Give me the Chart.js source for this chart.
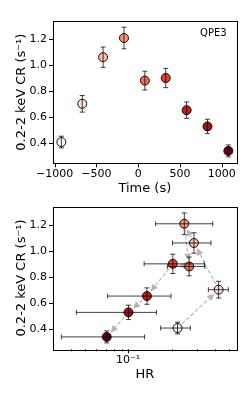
<!DOCTYPE html>
<html>
<head>
<meta charset="utf-8">
<script src="https://cdn.jsdelivr.net/npm/chart.js@4.4.1/dist/chart.umd.min.js"></script>
<style>
    html, body { margin: 0; padding: 0; background: #fff; }
    #wrap { position: relative; width: 246px; height: 393px; }
    canvas { position: absolute; left: 0; }
    #timeChart { top: 0; }
    #hrChart { top: 198px; }
</style>
</head>
<body>
<div id="wrap">
    <canvas id="timeChart" width="246" height="198"></canvas>
    <canvas id="hrChart" width="246" height="195"></canvas>
</div>
<script>
// Data (QPE3, nine time bins)
const timeSec = [-920, -670, -420, -170, 80, 330, 580, 830, 1080];
const countRate = [0.408, 0.702, 1.06, 1.207, 0.88, 0.90, 0.653, 0.528, 0.34];
const countRateErr = [0.045, 0.064, 0.078, 0.083, 0.072, 0.074, 0.063, 0.055, 0.046];
const hardness = [0.22, 0.424, 0.286, 0.245, 0.265, 0.204, 0.135, 0.1005, 0.071];
const hardnessLo = [0.168, 0.36, 0.203, 0.155, 0.187, 0.129, 0.072, 0.0437, 0.0344];
const hardnessHi = [0.27, 0.495, 0.375, 0.386, 0.34, 0.338, 0.198, 0.157, 0.13];

// Tick labels
const crTicks = [0.4, 0.6, 0.8, 1.0, 1.2];
const timeTicks = [-1000, -500, 0, 500, 1000];
const timeTickLabels = ['\u22121000', '\u2212500', '0', '500', '1000'];
const hrTicks = [0.04, 0.05, 0.06, 0.07, 0.08, 0.09, 0.1, 0.2, 0.3, 0.4, 0.5];
const hrMajor = [0.1];
const hrMajorLabels = ['10\u207B\u00B9'];

// Reds colormap, one colour per time bin
const pointColors = ['#fff5f0', '#fee0d2', '#fcbba1', '#fc9272', '#fb6a4a', '#ef3b2c', '#cb181d', '#a50f15', '#67000d'];

const FONT = 'DejaVu Sans';
const CR_MIN = 0.245, CR_MAX = 1.338;

/**
 * Draws the axes box, matplotlib-style tick marks and an optional corner label.
 */
const framePlugin = {
    id: 'frame',
    afterDraw(chart, args, opts) {
        const { ctx, chartArea: a, scales } = chart;
        ctx.save();
        ctx.strokeStyle = '#000';
        ctx.lineWidth = 1;
        ctx.strokeRect(Math.round(a.left) + 0.5, Math.round(a.top) + 0.5,
            Math.round(a.right - a.left), Math.round(a.bottom - a.top));

        ctx.beginPath();
        (opts.xMajor || []).forEach(v => {
            const x = Math.round(scales.x.getPixelForValue(v)) + 0.5;
            ctx.moveTo(x, a.bottom); ctx.lineTo(x, a.bottom + 4);
        });
        (opts.xMinor || []).forEach(v => {
            const x = Math.round(scales.x.getPixelForValue(v)) + 0.5;
            ctx.moveTo(x, a.bottom); ctx.lineTo(x, a.bottom + 2);
        });
        (opts.yMajor || []).forEach(v => {
            const y = Math.round(scales.y.getPixelForValue(v)) + 0.5;
            ctx.moveTo(a.left, y); ctx.lineTo(a.left - 4, y);
        });
        ctx.stroke();

        if (opts.label) {
            ctx.fillStyle = '#000';
            ctx.font = `10px "${FONT}"`;
            ctx.textAlign = 'right';
            ctx.textBaseline = 'middle';
            ctx.fillText(opts.label, a.right - 10, a.top + 12);
        }
        ctx.restore();
    }
};

/**
 * Error bars with caps, drawn over the markers.
 */
const errorBarPlugin = {
    id: 'errorbars',
    afterDatasetsDraw(chart, args, opts) {
        const { ctx, scales } = chart;
        const cap = 2.5;
        ctx.save();
        ctx.strokeStyle = 'rgba(0,0,0,0.75)';
        ctx.lineWidth = 1;
        ctx.beginPath();
        opts.x.forEach((xv, i) => {
            const px = scales.x.getPixelForValue(xv);
            const py = scales.y.getPixelForValue(opts.y[i]);
            const yTop = scales.y.getPixelForValue(opts.y[i] + opts.yErr[i]);
            const yBot = scales.y.getPixelForValue(opts.y[i] - opts.yErr[i]);
            ctx.moveTo(px, yTop); ctx.lineTo(px, yBot);
            ctx.moveTo(px - cap, yTop); ctx.lineTo(px + cap, yTop);
            ctx.moveTo(px - cap, yBot); ctx.lineTo(px + cap, yBot);
            if (opts.xLo) {
                const xl = scales.x.getPixelForValue(opts.xLo[i]);
                const xr = scales.x.getPixelForValue(opts.xHi[i]);
                ctx.moveTo(xl, py); ctx.lineTo(xr, py);
                ctx.moveTo(xl, py - cap); ctx.lineTo(xl, py + cap);
                ctx.moveTo(xr, py - cap); ctx.lineTo(xr, py + cap);
            }
        });
        ctx.stroke();
        ctx.restore();
    }
};

/**
 * Dashed grey arrows linking consecutive bins (time order), under the markers.
 */
const arrowPlugin = {
    id: 'arrows',
    beforeDatasetsDraw(chart, args, opts) {
        if (!opts.enabled) return;
        const { ctx } = chart;
        const pts = chart.getDatasetMeta(0).data;
        const shrink = 6, headLen = 7, headHalf = 3.5;
        ctx.save();
        ctx.strokeStyle = '#b5b5b5';
        ctx.fillStyle = '#b5b5b5';
        ctx.lineWidth = 1.1;
        for (let i = 0; i < pts.length - 1; i++) {
            const p = pts[i], q = pts[i + 1];
            const dx = q.x - p.x, dy = q.y - p.y;
            const len = Math.hypot(dx, dy);
            const ux = dx / len, uy = dy / len;
            const sx = p.x + ux * shrink, sy = p.y + uy * shrink;
            const ex = q.x - ux * shrink, ey = q.y - uy * shrink;
            const bx = ex - ux * headLen, by = ey - uy * headLen;
            ctx.setLineDash([4, 2]);
            ctx.beginPath();
            ctx.moveTo(sx, sy); ctx.lineTo(bx, by);
            ctx.stroke();
            ctx.setLineDash([]);
            ctx.beginPath();
            ctx.moveTo(ex, ey);
            ctx.lineTo(bx - uy * headHalf, by + ux * headHalf);
            ctx.lineTo(bx + uy * headHalf, by - ux * headHalf);
            ctx.closePath();
            ctx.fill();
        }
        ctx.restore();
    }
};

function crAxis(titlePad) {
    return {
        min: CR_MIN,
        max: CR_MAX,
        afterBuildTicks: s => { s.ticks = crTicks.map(v => ({ value: v })); },
        afterFit: s => { s.width = 53; },
        grid: { drawOnChartArea: false, drawTicks: true, tickLength: 4, color: 'rgba(0,0,0,0)' },
        border: { display: false },
        ticks: {
            padding: 2,
            color: '#000',
            font: { family: FONT, size: 11 },
            callback: v => Number(v).toFixed(1)
        },
        title: {
            display: true,
            text: '0.2-2 keV CR (s\u207B\u00B9)',
            color: '#000',
            font: { family: FONT, size: 13 },
            padding: { top: titlePad, bottom: 0 }
        }
    };
}

function buildPoints(xs) {
    return xs.map((x, i) => ({ x: x, y: countRate[i] }));
}

function baseDataset(xs) {
    return {
        data: buildPoints(xs),
        backgroundColor: pointColors,
        borderColor: '#111',
        borderWidth: 1,
        pointRadius: 4.5,
        pointHoverRadius: 4.5
    };
}

function initCharts() {
    // Count rate vs time
    new Chart(document.getElementById('timeChart'), {
        type: 'scatter',
        data: { datasets: [baseDataset(timeSec)] },
        options: {
            responsive: false,
            animation: false,
            layout: { padding: { top: 21, right: 9.3, left: 0, bottom: 0 } },
            plugins: {
                legend: { display: false },
                tooltip: { enabled: false },
                frame: { xMajor: timeTicks, yMajor: crTicks, label: 'QPE3' },
                errorbars: { x: timeSec, y: countRate, yErr: countRateErr },
                arrows: { enabled: false }
            },
            scales: {
                x: {
                    type: 'linear',
                    min: -1020,
                    max: 1180,
                    afterBuildTicks: s => { s.ticks = timeTicks.map(v => ({ value: v })); },
                    afterFit: s => { s.height = 34.7; },
                    grid: { drawOnChartArea: false, drawTicks: true, tickLength: 4, color: 'rgba(0,0,0,0)' },
                    border: { display: false },
                    ticks: {
                        padding: 0,
                        maxRotation: 0,
                        autoSkip: false,
                        color: '#000',
                        font: { family: FONT, size: 11 },
                        callback: (v, i) => timeTickLabels[i]
                    },
                    title: {
                        display: true,
                        text: 'Time (s)',
                        color: '#000',
                        font: { family: FONT, size: 13 },
                        padding: { top: 0, bottom: 1.2 }
                    }
                },
                y: crAxis(14)
            }
        },
        plugins: [framePlugin, errorBarPlugin, arrowPlugin]
    });

    // Count rate vs hardness ratio
    new Chart(document.getElementById('hrChart'), {
        type: 'scatter',
        data: { datasets: [baseDataset(hardness)] },
        options: {
            responsive: false,
            animation: false,
            layout: { padding: { top: 8.7, right: 9.3, left: 0, bottom: 0 } },
            plugins: {
                legend: { display: false },
                tooltip: { enabled: false },
                frame: {
                    xMajor: hrMajor,
                    xMinor: hrTicks.filter(v => !hrMajor.includes(v)),
                    yMajor: crTicks
                },
                errorbars: { x: hardness, y: countRate, yErr: countRateErr, xLo: hardnessLo, xHi: hardnessHi },
                arrows: { enabled: true }
            },
            scales: {
                x: {
                    type: 'logarithmic',
                    min: 0.0301,
                    max: 0.566,
                    afterBuildTicks: s => { s.ticks = hrTicks.map(v => ({ value: v })); },
                    afterFit: s => { s.height = 43.7; },
                    grid: { drawOnChartArea: false, drawTicks: true, tickLength: 4, color: 'rgba(0,0,0,0)' },
                    border: { display: false },
                    ticks: {
                        padding: 0,
                        maxRotation: 0,
                        autoSkip: false,
                        color: '#000',
                        font: { family: FONT, size: 11 },
                        callback: (v, i) => {
                            const k = hrMajor.indexOf(hrTicks[i]);
                            return k >= 0 ? hrMajorLabels[k] : '';
                        }
                    },
                    title: {
                        display: true,
                        text: 'HR',
                        color: '#000',
                        font: { family: FONT, size: 13 },
                        padding: { top: 0, bottom: 10.2 }
                    }
                },
                y: crAxis(14)
            }
        },
        plugins: [framePlugin, errorBarPlugin, arrowPlugin]
    });
}

initCharts();
</script>
</body>
</html>
